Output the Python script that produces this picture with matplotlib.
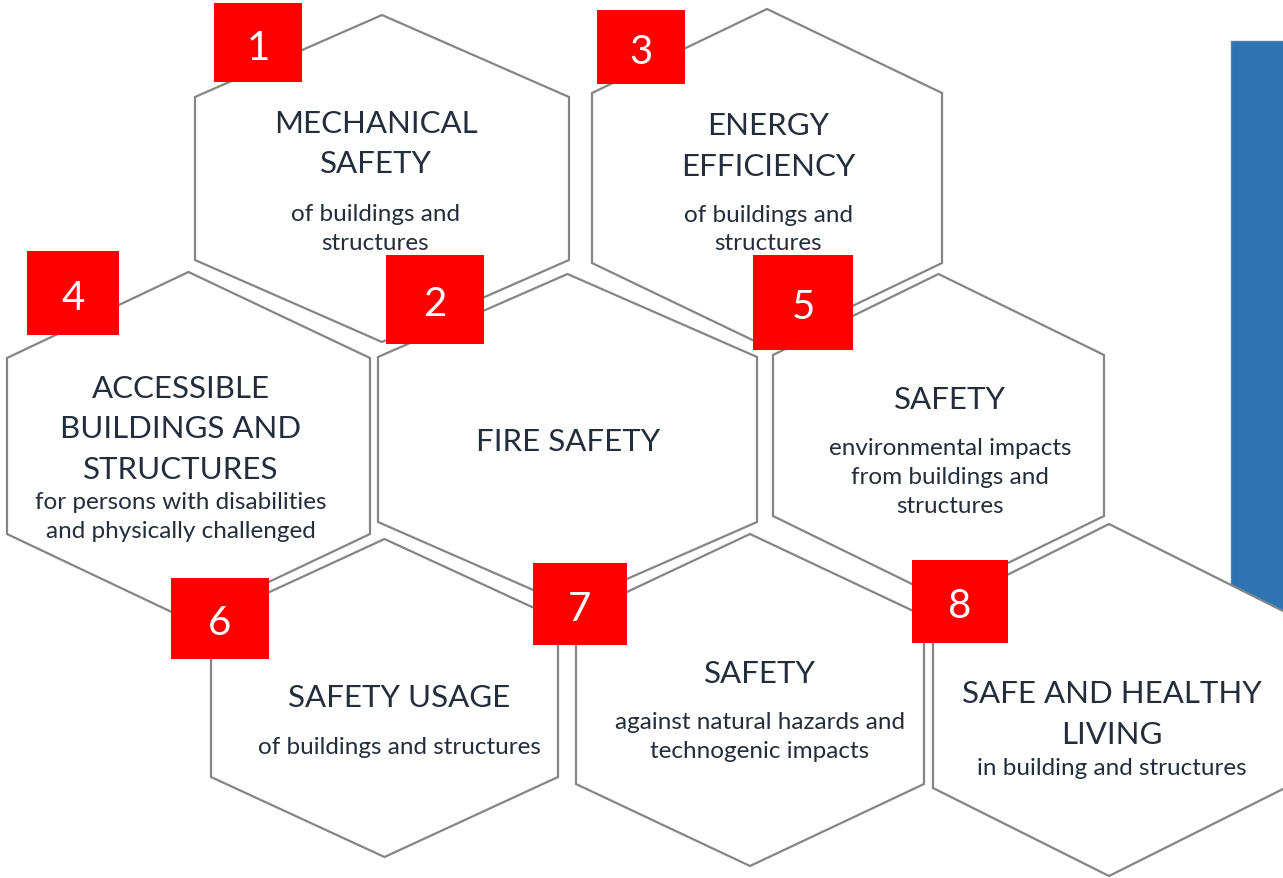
import matplotlib
matplotlib.use("Agg")
import matplotlib.pyplot as plt
from matplotlib.patches import Polygon, Rectangle

plt.rcParams['font.family'] = ['Lato', 'DejaVu Sans']

# content, in badge order 1..8
numbers = ["1", "2", "3", "4", "5", "6", "7", "8"]
titles = [
    ["MECHANICAL", "SAFETY"],
    ["FIRE SAFETY"],
    ["ENERGY", "EFFICIENCY"],
    ["ACCESSIBLE", "BUILDINGS AND", "STRUCTURES"],
    ["SAFETY"],
    ["SAFETY USAGE"],
    ["SAFETY"],
    ["SAFE AND HEALTHY", "LIVING"],
]
subtitles = [
    ["of buildings and", "structures"],
    [],
    ["of buildings and", "structures"],
    ["for persons with disabilities", "and physically challenged"],
    ["environmental impacts", "from buildings and", "structures"],
    ["of buildings and structures"],
    ["against natural hazards and", "technogenic impacts"],
    ["in building and structures"],
]

# layout in pixel coords (y down)
# hex: cx, cy, half width, half height, half side
hexes = [
    (382, 179.5, 187, 163.5, 81.5),
    (567.5, 440.5, 189.5, 165.5, 82.5),
    (767, 179, 175, 169, 85),
    (188.5, 447, 181.5, 174, 88),
    (938.5, 436.5, 165.5, 161.5, 80.5),
    (384.5, 699, 173.5, 159, 79),
    (750, 701, 174, 166, 84),
    (1109, 701, 176, 176, 88),
]
badges = [
    (214, 4, 302, 83),
    (386, 256, 484, 345),
    (597, 11, 685, 85),
    (27, 252, 119, 336),
    (753, 256, 853, 351),
    (171, 579, 269, 660),
    (533, 564, 627, 646),
    (912, 561, 1008, 644),
]
# text x, first title baseline, first subtitle baseline
text_pos = [
    (375.5, 132.7, 221),
    (568, 450.7, None),
    (768, 135, 221.7),
    (180.5, 397.7, 509.3),
    (950, 408.7, 455),
    (399, 706.7, 754.3),
    (760, 682.7, 729.3),
    (1112, 703.3, 775),
]

W, H = 1283, 879
fig = plt.figure(figsize=(W / 100, H / 100), dpi=100)
ax = fig.add_axes([0, 0, 1, 1])
ax.set_xlim(0, W)
ax.set_ylim(H, 0)
ax.axis("off")

text_color = "#232D3B"

# blue bar on the right
ax.add_patch(Rectangle((1231, 42), 80, 620, facecolor="#2E74B5",
                       edgecolor="#5B7FA6", lw=1, zorder=1))

for cx, cy, hw, hh, hs in hexes:
    pts = [(cx, cy - hh), (cx + hw, cy - hs), (cx + hw, cy + hs),
           (cx, cy + hh), (cx - hw, cy + hs), (cx - hw, cy - hs)]
    ax.add_patch(Polygon(pts, closed=True, facecolor="white",
                         edgecolor="#858585", lw=1.6, zorder=2))

for num, (x0, y0, x1, y1) in zip(numbers, badges):
    ax.add_patch(Rectangle((x0, y0), x1 - x0, y1 - y0, facecolor="#FF0000",
                           edgecolor="none", zorder=3))
    ax.text((x0 + x1) / 2, (y0 + y1) / 2 + 16, num, color="white",
            fontsize=29, ha="center", va="baseline", zorder=4)

for tlines, slines, (tx, tb, sb) in zip(titles, subtitles, text_pos):
    for i, line in enumerate(tlines):
        ax.text(tx, tb + i * 40.5, line, color=text_color, fontsize=22.5,
                ha="center", va="baseline", zorder=4)
    for i, line in enumerate(slines):
        ax.text(tx, sb + i * 28.8, line, color=text_color, fontsize=17.5,
                ha="center", va="baseline", zorder=4)

fig.savefig("out.png", dpi=100)
